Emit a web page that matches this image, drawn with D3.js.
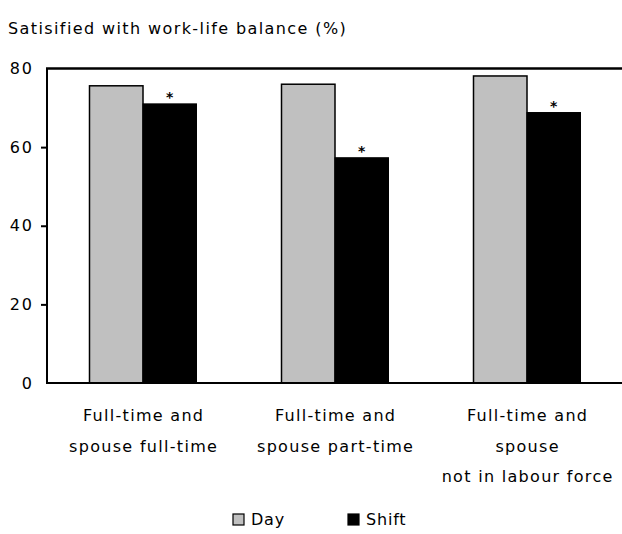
<!DOCTYPE html>
<html><head><meta charset="utf-8">
<script src="https://cdn.jsdelivr.net/npm/d3@7"></script>
<style>
body{margin:0;background:#fff;}
text{font-family:"DejaVu Sans",sans-serif;fill:#000;}
</style></head>
<body>
<svg id="c" width="622" height="534"></svg>
<script>
const categories = [
  ["Full-time and","spouse full-time"],
  ["Full-time and","spouse part-time"],
  ["Full-time and","spouse","not in labour force"]
];
const seriesNames = ["Day","Shift"];
const dayValues = [75.6, 76.0, 78.1];
const shiftValues = [71.0, 57.3, 68.8];
const significant = [true, true, true];
const yTicks = [0,20,40,60,80];
const title = "Satisified with work-life balance (%)";

const svg = d3.select("#c");
const m = {left:47, top:68.5, right:623, bottom:383};
const x = d3.scaleBand().domain(d3.range(categories.length)).range([m.left, m.right]).paddingInner(0).paddingOuter(0);
const y = d3.scaleLinear().domain([0,80]).range([m.bottom, m.top]);
const colors = {Day:"#c0c0c0", Shift:"#000000"};
const barW = 53.5;
const ls = 1.3;
const fs = 16;

svg.append("text").attr("x",8).attr("y",34).attr("font-size",fs).attr("letter-spacing",1.4).text(title);

// bars
const data = categories.map((c,i)=>({i, day:dayValues[i], shift:shiftValues[i]}));
const g = svg.append("g");
data.forEach(d=>{
  const cx = x(d.i) + x.bandwidth()/2;
  g.append("rect").attr("x",cx-barW).attr("y",y(d.day)).attr("width",barW).attr("height",y(0)-y(d.day))
   .attr("fill",colors.Day).attr("stroke","#000").attr("stroke-width",1.5);
  g.append("rect").attr("x",cx).attr("y",y(d.shift)).attr("width",barW).attr("height",y(0)-y(d.shift))
   .attr("fill",colors.Shift).attr("stroke","#000").attr("stroke-width",1);
  if (significant[d.i]) {
    g.append("text").attr("x",cx+barW/2).attr("y",y(d.shift)-2).attr("text-anchor","middle")
     .attr("font-size",14).attr("font-weight","bold").text("*");
  }
});

// axes
const yAxis = d3.axisLeft(y).tickValues(yTicks).tickSize(6).tickPadding(8).tickFormat(d3.format("d"));
const ya = svg.append("g").attr("transform",`translate(${m.left},0)`).call(yAxis);
ya.select(".domain").attr("stroke-width",2).attr("d",`M0,${m.top}V${m.bottom}`);
ya.selectAll(".tick line").attr("stroke-width",2);
ya.selectAll(".tick").filter(d=>d===0||d===80).select("line").remove();
ya.selectAll(".tick text").attr("font-size",16).attr("font-family","DejaVu Sans").attr("fill","#000")
  .attr("letter-spacing",2).attr("x",-13);

svg.append("line").attr("x1",m.left-1).attr("x2",622).attr("y1",y(80)).attr("y2",y(80)).attr("stroke","#000").attr("stroke-width",2.5);
svg.append("line").attr("x1",m.left-1).attr("x2",622).attr("y1",y(0)).attr("y2",y(0)).attr("stroke","#000").attr("stroke-width",2);

// category labels
categories.forEach((lines,i)=>{
  const cx = x(i)+x.bandwidth()/2 + ls/2;
  const t = svg.append("text").attr("text-anchor","middle").attr("font-size",fs).attr("letter-spacing",ls);
  lines.forEach((l,k)=>{
    t.append("tspan").attr("x",cx).attr("y",421+k*30.5).text(l);
  });
});

// legend
const leg = [{name:"Day",x:233},{name:"Shift",x:348}];
leg.forEach(l=>{
  svg.append("rect").attr("x",l.x).attr("y",514).attr("width",11).attr("height",11)
    .attr("fill",colors[l.name]).attr("stroke","#000").attr("stroke-width",1.2);
  svg.append("text").attr("x",l.x+18).attr("y",525).attr("font-size",fs).attr("letter-spacing",0.8).text(l.name);
});
</script>
</body></html>
